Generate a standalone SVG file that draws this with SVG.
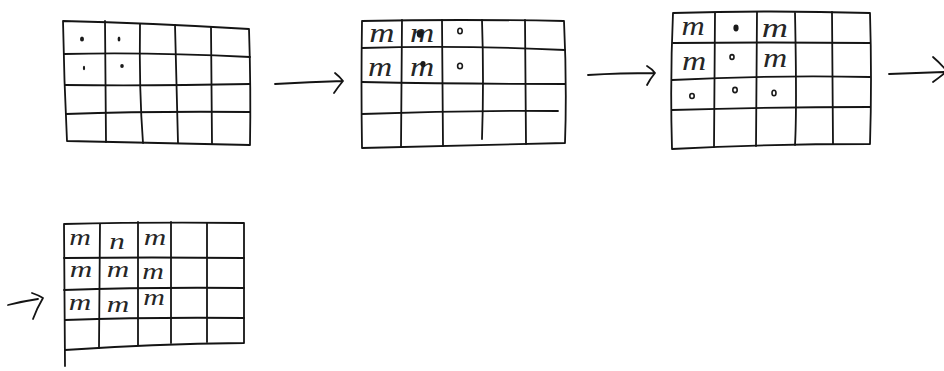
<svg xmlns="http://www.w3.org/2000/svg" width="944" height="371" viewBox="0 0 944 371">
  <style>
    .ink { fill: none; stroke: #141414; stroke-width: 1.8; stroke-linecap: round; stroke-linejoin: round; }
    .dot { fill: #1a1a1a; }
    .ring { fill: #ffffff; stroke: #1a1a1a; stroke-width: 1.6; }
    .mark { font-family: "Liberation Serif", "DejaVu Serif", serif; font-style: italic; fill: #262626; text-anchor: middle; }
    .m1 { font-size: 28px; }
    .m2 { font-size: 24px; }
  </style>

  <rect width="944" height="371" fill="#ffffff"/>

  <!-- step 1: four seed dots -->
  <g id="grid1">
    <path class="ink" d="M63,21 Q150,23 249,29 Q251,90 250,145 Q160,143 67,141 Q64,80 63,21"/>
    <path class="ink" d="M105,21 L106,142 M140,24 Q139,90 143,143 M175,25 L178,143 M211,27 L212,144"/>
    <path class="ink" d="M64,54 Q150,52 250,57 M65,85 Q150,86 250,84 M66,114 Q150,111 250,112"/>
    <ellipse class="dot" cx="82" cy="39" rx="2" ry="2.6"/>
    <ellipse class="dot" cx="119" cy="39" rx="1.4" ry="2.5"/>
    <ellipse class="dot" cx="84" cy="68" rx="1.1" ry="2.2"/>
    <ellipse class="dot" cx="122" cy="66" rx="1.8" ry="2"/>
  </g>

  <!-- step 2 -->
  <g id="grid2">
    <path class="ink" d="M362,21 Q460,19 564,21 Q567,85 565,143 Q460,146 362,148 Q361,85 362,21"/>
    <path class="ink" d="M402,20 L401,147 M442,20 L443,146 M482,20 Q484,80 482,139 M525,20 L526,144"/>
    <path class="ink" d="M362,48 Q460,45 565,50 M362,82 Q460,84 565,84 M362,114 Q460,110 558,111"/>
    <text class="mark m1" transform="translate(382,42) scale(1.25,1)">m</text>
    <text class="mark m1" transform="translate(422,42) scale(1.2,1)">m</text>
    <text class="mark m1" transform="translate(380,76) scale(1.2,1)">m</text>
    <text class="mark m1" transform="translate(422,76) scale(1.2,1)">m</text>
    <ellipse class="dot" cx="420" cy="34" rx="3.2" ry="3.8"/>
    <ellipse class="dot" cx="423" cy="64" rx="2.6" ry="3"/>
    <ellipse class="ring" cx="460" cy="31" rx="2.2" ry="2.8"/>
    <ellipse class="ring" cx="460" cy="66" rx="2.4" ry="2.8"/>
  </g>

  <!-- step 3 -->
  <g id="grid3">
    <path class="ink" d="M673,13 Q770,10 870,13 Q872,80 870,144 Q770,144 672,149 Q670,80 673,13"/>
    <path class="ink" d="M715,13 L714,147 M757,12 L756,146 M795,13 Q797,110 795,145 M832,12 L833,144"/>
    <path class="ink" d="M673,43 Q770,42 870,43 M672,80 Q770,75 870,77 M672,110 Q770,107 870,107"/>
    <text class="mark m1" transform="translate(693,35) scale(1.15,1)">m</text>
    <text class="mark m1" transform="translate(775,37) scale(1.3,1)">m</text>
    <text class="mark m1" transform="translate(694,70) scale(1.2,1)">m</text>
    <text class="mark m1" transform="translate(775,67) scale(1.2,1)">m</text>
    <ellipse class="dot" cx="736" cy="28" rx="2.6" ry="3.4"/>
    <ellipse class="ring" cx="732" cy="57" rx="2" ry="2.4"/>
    <ellipse class="ring" cx="692" cy="96" rx="2.2" ry="2.5"/>
    <ellipse class="ring" cx="735" cy="90" rx="2.2" ry="2.6"/>
    <ellipse class="ring" cx="774" cy="93" rx="2" ry="2.8"/>
  </g>

  <!-- step 4: filled three by three block -->
  <g id="grid4">
    <path class="ink" d="M64,224 Q150,222 244,223 L244,343 Q150,344 65,350 M64,224 L65,366"/>
    <path class="ink" d="M100,224 L99,348 M138,222 L138,345 M171,222 L171,343 M207,223 L207,342"/>
    <path class="ink" d="M64,258 Q150,257 244,258 M64,290 Q150,287 244,288 M65,320 Q150,317 244,318"/>
    <text class="mark m2" transform="translate(80,245) scale(1.25,1)">m</text>
    <text class="mark m2" transform="translate(117,249) scale(1.3,1)">n</text>
    <text class="mark m2" transform="translate(155,245) scale(1.3,1)">m</text>
    <text class="mark m2" transform="translate(81,277) scale(1.3,1)">m</text>
    <text class="mark m2" transform="translate(118,277) scale(1.3,1)">m</text>
    <text class="mark m2" transform="translate(153,279) scale(1.25,1)">m</text>
    <text class="mark m2" transform="translate(80,310) scale(1.3,1)">m</text>
    <text class="mark m2" transform="translate(118,312) scale(1.3,1)">m</text>
    <text class="mark m2" transform="translate(154,305) scale(1.25,1)">m</text>
  </g>

  <g id="connectors">
    <path class="ink" d="M275,84 Q310,82 343,81 M335,73 Q340,77 343,81 Q338,87 334,93"/>
    <path class="ink" d="M588,75 Q620,73 655,73 M647,66 Q652,69 655,73 Q650,79 647,85"/>
    <path class="ink" d="M889,74 Q915,73 944,72 M933,57 Q940,63 946,70 M933,82 Q940,77 946,72"/>
    <path class="ink" d="M8,305 Q24,301 38,299 M32,293 Q38,295 43,298 Q37,308 33,319"/>
  </g>
</svg>
